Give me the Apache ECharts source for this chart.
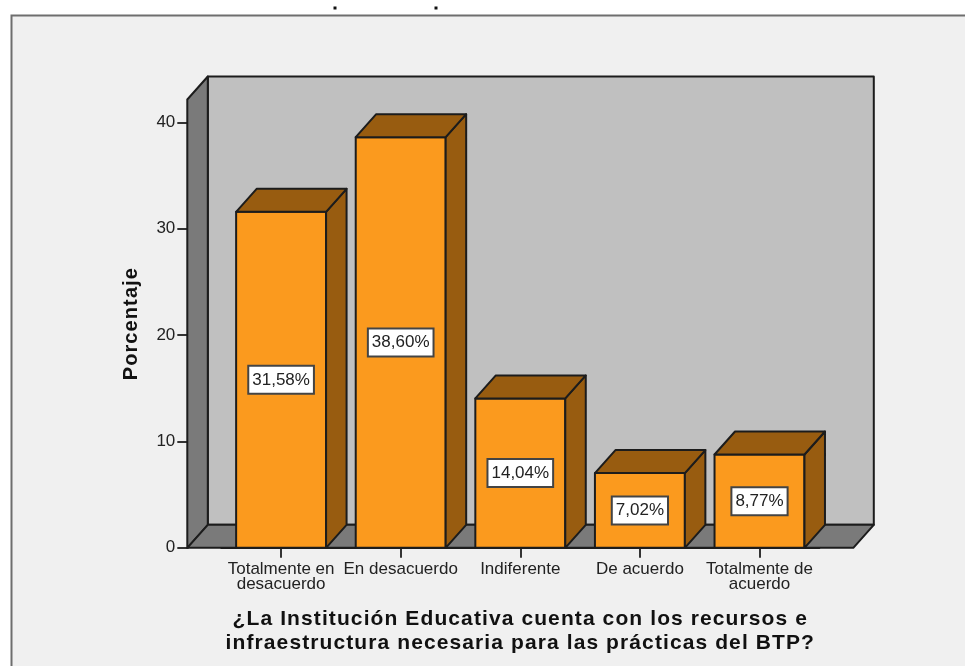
<!DOCTYPE html>
<html>
<head>
<meta charset="utf-8">
<style>html,body{margin:0;padding:0;background:#fff}#c{width:965px;height:666px}</style>
<script src="https://cdn.jsdelivr.net/npm/echarts@6/dist/echarts.min.js"></script>
</head>
<body>
<div id="c"></div>
<script>
const categories = ['Totalmente en\ndesacuerdo', 'En desacuerdo', 'Indiferente', 'De acuerdo', 'Totalmente de\nacuerdo'];
const percentages = [31.58, 38.60, 14.04, 7.02, 8.77];
const yTicks = [0, 10, 20, 30, 40];
const xTitle = '¿La Institución Educativa cuenta con los recursos e\ninfraestructura necesaria para las prácticas del BTP?';
const yTitle = 'Porcentaje';

const DX = 20.5, DY = 23, SIDE = 34;
const FRONT = '#fb9a1e', DARK = '#985c10', WALL = '#c0c0c0', SHADE = '#7a7a7a', EDGE = '#1c1c1c';
const FONT = '"Liberation Sans", Arial, sans-serif';

// The reference's bold titles are letter-spaced; canvas text has a native setting for it.
const nativeFillText = CanvasRenderingContext2D.prototype.fillText;
CanvasRenderingContext2D.prototype.fillText = function (t, x, y, m) {
  this.letterSpacing = this.font.indexOf('bold') >= 0 ? '1.1px' : '0px';
  return m === undefined ? nativeFillText.call(this, t, x, y) : nativeFillText.call(this, t, x, y, m);
};

function poly(points, fill, z2) {
  return { type: 'polygon', z2: z2 || 0, shape: { points },
    style: { fill, stroke: EDGE, lineWidth: 2, lineJoin: 'round' } };
}

function renderWalls(params) {
  const c = params.coordSys;
  const l = c.x - SIDE, r = c.x + c.width + SIDE, t = c.y, b = c.y + c.height;
  return { type: 'group', silent: true, children: [
    poly([[l + DX, t - DY], [r + DX, t - DY], [r + DX, b - DY], [l + DX, b - DY]], WALL),
    poly([[l, t], [l + DX, t - DY], [l + DX, b - DY], [l, b]], SHADE),
    poly([[l, b], [l + DX, b - DY], [r + DX, b - DY], [r, b]], SHADE)
  ]};
}

function renderBar(params, api) {
  const i = api.value(0), v = api.value(1);
  const top = api.coord([i, v]), base = api.coord([i, 0]), mid = api.coord([i, v / 2]);
  const w = api.size([1, 0])[0] * 0.752;
  const l = top[0] - w / 2, r = top[0] + w / 2;
  return { type: 'group', children: [
    poly([[l, base[1]], [r, base[1]], [r, top[1]], [l, top[1]]], FRONT),
    poly([[r, base[1]], [r + DX, base[1] - DY], [r + DX, top[1] - DY], [r, top[1]]], DARK),
    poly([[l, top[1]], [l + DX, top[1] - DY], [r + DX, top[1] - DY], [r, top[1]]], DARK),
    { type: 'text', z2: 5, style: {
        x: top[0], y: mid[1], align: 'center', verticalAlign: 'middle',
        text: v.toFixed(2).replace('.', ',') + '%',
        font: '17px ' + FONT, fill: '#222',
        backgroundColor: '#fff', borderColor: '#444', borderWidth: 2,
        padding: [5, 3, 4, 3]
    } }
  ]};
}

const chart = echarts.init(document.getElementById('c'), null, { renderer: 'canvas' });
chart.setOption({
  animation: false,
  backgroundColor: '#ffffff',
  textStyle: { fontFamily: FONT },
  graphic: [
    { type: 'rect', z: -10, silent: true, shape: { x: 11.5, y: 15.5, width: 970, height: 670 },
      style: { fill: '#f0f0f0', stroke: '#6e6e6e', lineWidth: 2 } },
    { type: 'rect', z: -9, silent: true, shape: { x: 333.5, y: 6.5, width: 3, height: 3 }, style: { fill: '#111' } },
    { type: 'rect', z: -9, silent: true, shape: { x: 434.5, y: 6.5, width: 3, height: 3 }, style: { fill: '#111' } }
  ],
  grid: { left: 221.3, width: 598, top: 99.5, height: 448.3, containLabel: false },
  xAxis: {
    type: 'category', data: categories,
    axisLine: { show: true, lineStyle: { color: EDGE, width: 2 } },
    axisTick: { show: true, alignWithLabel: true, length: 10, lineStyle: { color: '#333', width: 2 } },
    axisLabel: { interval: 0, color: '#222', fontSize: 17, lineHeight: 15, margin: 14, hideOverlap: false },
    name: xTitle, nameLocation: 'middle', nameGap: 59,
    nameTextStyle: { color: '#111', fontSize: 21, fontWeight: 'bold', lineHeight: 24 }
  },
  yAxis: {
    type: 'value', min: 0, max: 42.14, offset: SIDE, splitLine: { show: false },
    axisLine: { show: true, lineStyle: { color: EDGE, width: 2 } },
    axisTick: { show: true, length: 10, customValues: yTicks, lineStyle: { color: '#333', width: 2 } },
    axisLabel: { color: '#222', fontSize: 17, margin: 12, customValues: yTicks },
    name: yTitle, nameLocation: 'middle', nameGap: 46, nameRotate: 90,
    nameTextStyle: { color: '#111', fontSize: 20, fontWeight: 'bold' }
  },
  series: [
    { type: 'custom', name: 'walls', z: 1, clip: false, silent: true, renderItem: renderWalls, data: [[0, 0]], encode: { x: 0, y: 1 } },
    { type: 'custom', name: 'Porcentaje', z: 3, clip: false, renderItem: renderBar,
      data: percentages.map((v, i) => [i, v]), encode: { x: 0, y: 1 } }
  ]
});
</script>
</body>
</html>
